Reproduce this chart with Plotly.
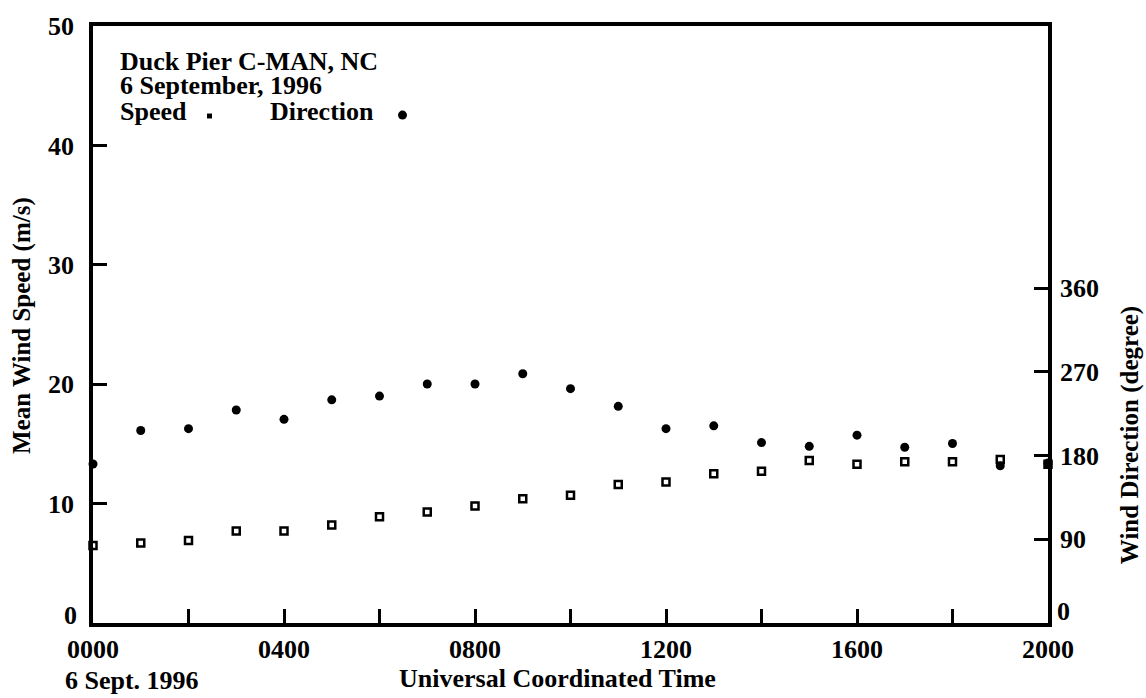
import plotly.graph_objects as go

# Hourly observations, Duck Pier C-MAN station, 6 Sept 1996 (UTC hours)
hours = list(range(0, 21))
speed_ms = [6.5, 6.7, 6.9, 7.7, 7.7, 8.2, 8.9, 9.3, 9.8, 10.4, 10.7,
            11.6, 11.8, 12.5, 12.7, 13.6, 13.3, 13.5, 13.5, 13.7, 13.3]
direction_deg = [171, 207, 209, 229, 219, 240, 244, 257, 257, 268, 252,
                 233, 209, 212, 194, 190, 202, 189, 193, 169, 172]

x_tick_vals = list(range(0, 21, 2))
x_tick_text = ["%04d" % (h * 100) if h % 4 == 0 else "" for h in x_tick_vals]
speed_ticks = [10, 20, 30, 40, 50]
dir_ticks = [90, 180, 270, 360]

FONT = "Liberation Serif"
FS = 26


def bold(s):
    return "<b>%s</b>" % s


fig = go.Figure()
fig.add_trace(go.Scatter(
    x=hours, y=speed_ms, mode="markers", name="Speed",
    marker=dict(symbol="square-open", size=7, color="black",
                line=dict(color="black", width=2.5)),
    cliponaxis=False, yaxis="y"))
fig.add_trace(go.Scatter(
    x=hours, y=direction_deg, mode="markers", name="Direction",
    marker=dict(symbol="circle", size=9, color="black"),
    cliponaxis=False, yaxis="y2"))

axis_common = dict(showline=True, linecolor="black", linewidth=3.5,
                   showgrid=False, zeroline=False, ticks="inside",
                   ticklen=14, tickwidth=2.5, tickcolor="black",
                   tickfont=dict(family=FONT, size=FS, color="black", weight="bold"))

fig.update_layout(
    width=1146, height=698,
    margin=dict(l=93, r=98, t=16, b=75),
    paper_bgcolor="white", plot_bgcolor="white",
    showlegend=False,
    font=dict(family=FONT, size=FS, color="black"),
    xaxis=dict(range=[0, 20], tickvals=x_tick_vals, ticktext=x_tick_text,
               mirror=True, ticklabelstandoff=0, **axis_common),
    yaxis=dict(range=[0, 50], tickvals=speed_ticks,
               ticktext=[str(v) for v in speed_ticks],
               ticklabelstandoff=10, **axis_common),
    yaxis2=dict(range=[0, 642], overlaying="y", side="right",
                tickvals=dir_ticks, ticktext=[str(v) for v in dir_ticks],
                ticklabelstandoff=3, **axis_common),
)


def px_x(px):
    return (px - 93) / 955.0


def px_y(py):
    return (623 - py) / 607.0


notes = [
    ("Duck Pier C-MAN, NC", 118, 52),
    ("6 September, 1996", 118, 77),
    ("Speed", 118, 103),
    ("Direction", 268, 103),
]
for text, px, py in notes:
    fig.add_annotation(text=bold(text), xref="paper", yref="paper",
                       x=px_x(px), y=px_y(py), xanchor="left", yanchor="middle",
                       showarrow=False, font=dict(family=FONT, size=FS, color="black"))

# key symbols next to the series names
fig.add_shape(type="rect", xref="paper", yref="paper",
              x0=px_x(207), x1=px_x(212), y0=px_y(110), y1=px_y(105),
              fillcolor="black", line=dict(width=0))
fig.add_shape(type="circle", xref="paper", yref="paper",
              x0=px_x(398), x1=px_x(407), y0=px_y(111), y1=px_y(102),
              fillcolor="black", line=dict(width=0))

# zero labels sit slightly above the baseline
fig.add_annotation(text=bold("0"), xref="paper", yref="y", x=0, y=0, xanchor="right",
                   yanchor="middle", xshift=-14, yshift=8, showarrow=False,
                   font=dict(family=FONT, size=FS, color="black"))
fig.add_annotation(text=bold("0"), xref="paper", yref="y2", x=1, y=0, xanchor="left",
                   yanchor="middle", xshift=7, yshift=12, showarrow=False,
                   font=dict(family=FONT, size=FS, color="black"))

# axis titles
fig.add_annotation(text=bold("Mean Wind Speed (m/s)"), xref="paper", yref="paper",
                   x=px_x(22), y=px_y(321), textangle=-90, showarrow=False,
                   xanchor="center", yanchor="middle",
                   font=dict(family=FONT, size=25, color="black"))
fig.add_annotation(text=bold("Wind Direction (degree)"), xref="paper", yref="paper",
                   x=px_x(1130), y=px_y(432), textangle=-90, showarrow=False,
                   xanchor="center", yanchor="middle",
                   font=dict(family=FONT, size=25, color="black"))
fig.add_annotation(text=bold("Universal Coordinated Time"), xref="paper", yref="paper",
                   x=px_x(557), y=px_y(679), showarrow=False,
                   xanchor="center", yanchor="middle",
                   font=dict(family=FONT, size=FS, color="black"))
fig.add_annotation(text=bold("6 Sept. 1996"), xref="paper", yref="paper",
                   x=px_x(63), y=px_y(681), showarrow=False,
                   xanchor="left", yanchor="middle",
                   font=dict(family=FONT, size=FS, color="black"))

fig.write_html("out.html")
